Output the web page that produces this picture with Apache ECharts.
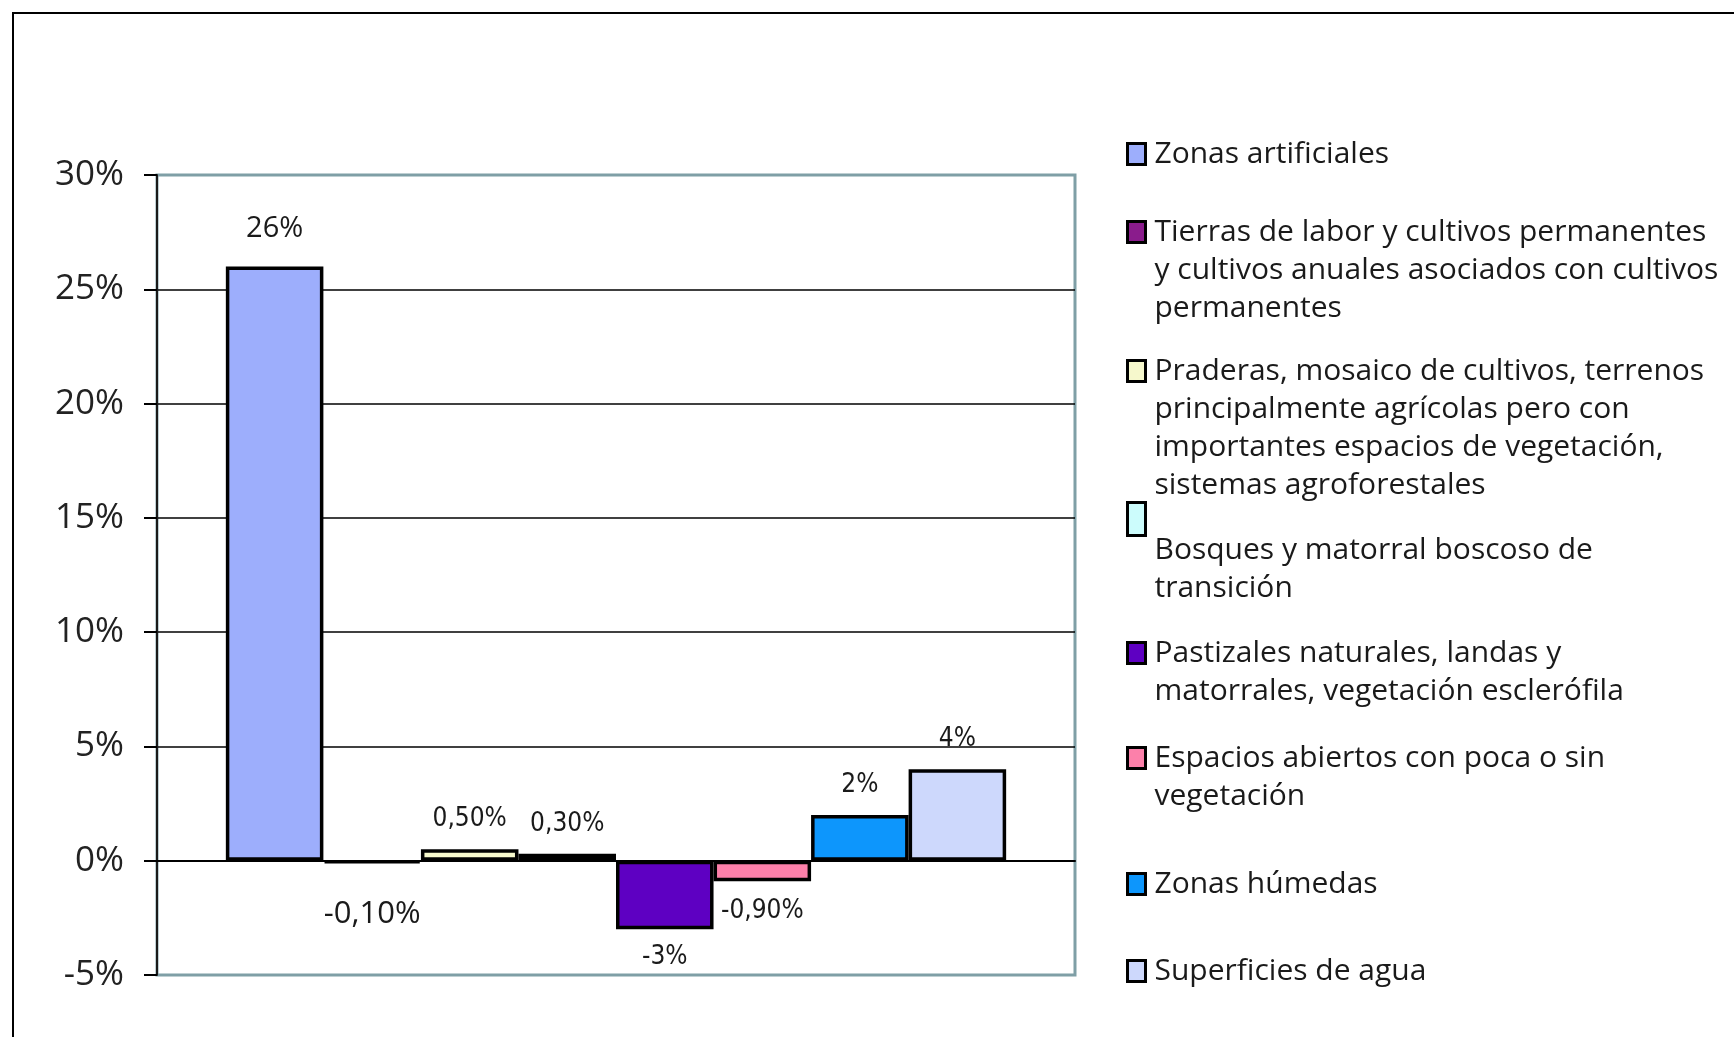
<!DOCTYPE html>
<html>
<head>
<meta charset="utf-8">
<title>Cambio de ocupación del suelo</title>
<script src="https://cdn.jsdelivr.net/npm/echarts@6/dist/echarts.min.js"></script>
<style>
  html, body { margin: 0; padding: 0; background: #fff; }
  #chart { width: 1734px; height: 1037px; }
</style>
</head>
<body>
<div id="chart"></div>
<script>
// series (one bar each, all in the same category)
const seriesNames = [
  'Zonas artificiales',
  'Tierras de labor y cultivos permanentes y cultivos anuales asociados con cultivos permanentes',
  'Praderas, mosaico de cultivos, terrenos principalmente agrícolas pero con importantes espacios de vegetación, sistemas agroforestales',
  'Bosques y matorral boscoso de transición',
  'Pastizales naturales, landas y matorrales, vegetación esclerófila',
  'Espacios abiertos con poca o sin vegetación',
  'Zonas húmedas',
  'Superficies de agua'
];
// legend text as wrapped in the picture
const legendLines = [
  ['Zonas artificiales'],
  ['Tierras de labor y cultivos permanentes', 'y cultivos anuales asociados con cultivos', 'permanentes'],
  ['Praderas, mosaico de cultivos, terrenos', 'principalmente agrícolas pero con', 'importantes espacios de vegetación,', 'sistemas agroforestales'],
  ['Bosques y matorral boscoso de', 'transición'],
  ['Pastizales naturales, landas y', 'matorrales, vegetación esclerófila'],
  ['Espacios abiertos con poca o sin', 'vegetación'],
  ['Zonas húmedas'],
  ['Superficies de agua']
];
const values = [26, -0.1, 0.5, 0.3, -3, -0.9, 2, 4];
const valueLabels = ['26%', '-0,10%', '0,50%', '0,30%', '-3%', '-0,90%', '2%', '4%'];
const colors = ['#9daefc', '#8a1c8c', '#f6f8cc', '#ccfcfc', '#5e00c2', '#fc80aa', '#0d96fc', '#cdd8fc'];

const yMin = -5, yMax = 30, yStep = 5;

const chart = echarts.init(document.getElementById('chart'));

const FONT = '"Open Sans", Lato, sans-serif';
const NARROW = '"Liberation Sans Narrow", "DejaVu Sans Condensed", sans-serif';
const LH = 38; // legend line height

// label placement per bar (distance from the bar edge)
const labelDist = [23, 35, 17, 17, 15, 17, 17, 17];
const labelSize = [29, 31, 26, 26, 26, 26, 26, 26];
const labelFont = [FONT, FONT, NARROW, NARROW, NARROW, NARROW, NARROW, NARROW];

// legend: one component per item so the spacing matches the picture
const iconCenters = [151, 229, 368, 519, 650, 755, 881, 968];
const legends = seriesNames.map((name, i) => {
  const n = legendLines[i].length;
  const special = i === 3; // icon sits one line above the text here
  const itemH = special ? 33 : 21;
  // rich text: top padding pushes the text down so the icon lines up with line 1
  let pt = (n - 1) * LH;
  if (special) pt = 2 * (31 + LH / 2);
  return {
    data: [name],
    left: 1126,
    top: iconCenters[i] - itemH / 2 - 1.5, // legend box starts at the icon
    padding: 0,
    orient: 'vertical',
    icon: 'rect',
    itemWidth: 18,
    itemHeight: itemH,
    selectedMode: false,
    itemStyle: { borderColor: '#000', borderWidth: 3 },
    formatter: () => legendLines[i].map(l => '{t|' + l + '}').join('\n'),
    textStyle: {
      padding: [pt, 0, 0, 4],
      rich: {
        t: { fontFamily: FONT, fontSize: 30, color: '#1a1a1a', lineHeight: LH }
      }
    }
  };
});

const series = seriesNames.map((name, i) => ({
  name: name,
  type: 'bar',
  data: [values[i]],
  barGap: '0%',
  barCategoryGap: '15%',
  itemStyle: { color: colors[i], borderColor: '#000', borderWidth: 3.5 },
  label: {
    show: true,
    position: values[i] >= 0 ? 'top' : 'bottom',
    distance: labelDist[i],
    formatter: () => valueLabels[i],
    fontFamily: labelFont[i],
    fontSize: labelSize[i],
    color: '#1a1a1a'
  }
}));

// split lines: black inside, teal-grey on the plot border
const splitColors = [];
for (let v = yMin; v <= yMax; v += yStep) {
  splitColors.push(v === yMin || v === yMax ? '#7f9fa6' : '#000');
}

chart.setOption({
  animation: false,
  backgroundColor: '#fff',
  graphic: [{
    type: 'rect',
    shape: { x: 13, y: 13, width: 1800, height: 1100 },
    style: { fill: 'none', stroke: '#000', lineWidth: 2 },
    silent: true
  }],
  grid: {
    left: 157, top: 175, width: 918, height: 800,
    show: true, borderColor: '#7f9fa6', borderWidth: 3,
    backgroundColor: 'transparent'
  },
  legend: legends,
  xAxis: {
    type: 'category',
    data: [''],
    axisLine: { show: true, onZero: true, lineStyle: { color: '#000', width: 2 } },
    axisTick: { show: false },
    axisLabel: { show: false },
    splitLine: { show: false }
  },
  yAxis: {
    type: 'value',
    min: yMin, max: yMax, interval: yStep,
    axisLine: { show: true, lineStyle: { color: '#1a1a1a', width: 2 } },
    axisTick: { show: true, length: 13, lineStyle: { color: '#000', width: 2 } },
    axisLabel: {
      formatter: '{value}%',
      fontFamily: FONT,
      fontSize: 35,
      color: '#222',
      margin: 33
    },
    splitLine: { show: true, lineStyle: { color: splitColors, width: 1.5 } }
  },
  series: series
});
</script>
</body>
</html>
